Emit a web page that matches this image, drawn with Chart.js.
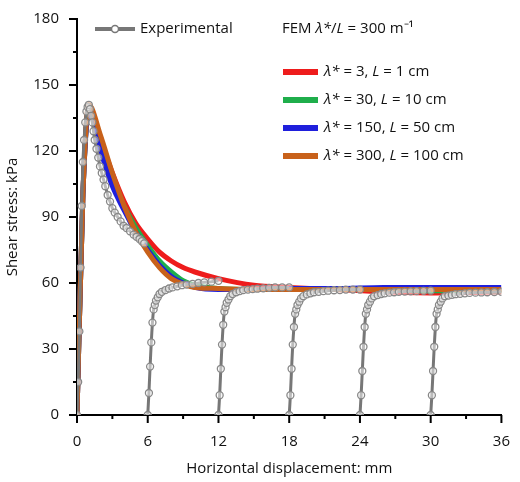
<!DOCTYPE html><html><head><meta charset="utf-8">
<script src="https://cdn.jsdelivr.net/npm/chart.js@4"></script>
<style>body{margin:0;background:#fff}#w{width:520px;height:482px}</style></head><body><div id="w"><canvas id="c"></canvas></div>
<script>
const xTicks=[0,6,12,18,24,30,36];
const yTicks=[0,30,60,90,120,150,180];
const expX=[0,0.1,0.2,0.3,0.4,0.5,0.6,0.7,0.8,0.9,1.0,1.1,1.2,1.3,1.4,1.5,1.65,1.8,1.95,2.1,2.25,2.4,2.6,2.8,3.0,3.2,3.45,3.7,3.95,4.2,4.5,4.8,5.05,5.3,5.5,5.7,null,
6,6.1,6.2,6.3,6.4,6.5,6.6,6.7,6.85,7,7.2,7.5,7.8,8.1,8.5,8.9,9.3,9.8,10.3,10.8,11.4,12,null,
12,12.1,12.2,12.3,12.4,12.5,12.6,12.7,12.85,13,13.2,13.5,13.8,14.1,14.5,14.9,15.3,15.8,16.3,16.8,17.4,18,null,
18,18.1,18.2,18.3,18.4,18.5,18.6,18.7,18.85,19,19.2,19.5,19.8,20.1,20.5,20.9,21.3,21.8,22.3,22.8,23.4,24,null,
24,24.1,24.2,24.3,24.4,24.5,24.6,24.7,24.85,25,25.2,25.5,25.8,26.1,26.5,26.9,27.3,27.8,28.3,28.8,29.4,30,null,
30,30.1,30.2,30.3,30.4,30.5,30.6,30.7,30.85,31,31.2,31.5,31.8,32.1,32.5,32.9,33.3,33.8,34.3,34.8,35.4,36];
const expY=[0,15,38,67,95,115,125,133,138,140,141,139,136,133,129,125,121,117,113,110,107,104,100,97,94,92,90,88,86,85,83.5,82,81,80,79,78,null,
0,10,22,33,42,48,50,52,53.5,55,56,56.8,57.5,58,58.5,59,59.3,59.6,60,60.3,60.6,61,null,
0,9,21,32,41,47,49,51,52.5,54,55,55.8,56.3,56.8,57,57.2,57.4,57.6,57.8,58,58,58,null,
0,9,21,32,40,46,48,50,51.5,53,54,54.8,55.3,55.8,56,56.3,56.5,56.7,56.8,57,57,57,null,
0,9,20,31,40,46,48,50,51.5,53,54,54.5,55,55.3,55.6,55.8,56,56.1,56.2,56.3,56.4,56.5,null,
0,9,20,31,40,46,48,50,51.5,53,54,54.3,54.6,54.9,55.1,55.3,55.5,55.6,55.7,55.8,55.9,56];
const femX=[0,0.5,1,2,3,4,5,6,7,8,9,10,12,15,18,22,26,30,36];
const redY=[0,100,140,125,110,97,87,80,74,70,67,65,62,59,58,57,56,55.5,56];
const greenY=[0,100,139,122,107,95,85,77,70,65,61,59,57.5,57,57,57,57,56.5,56.5];
const blueY=[0,100,138,120,104,93,83,75,68,63,60,58,57,57,57.5,57.5,58,58,58];
const orangeY=[0,100,141,127,110,95,83,74,67,62,59.5,58,57.5,57,57,57,57,57,57];
const femColors=['#ee1c1c','#1fae4b','#1f1fdc','#c8611a'];
const femLabels=[[['λ*','i'],[' = 3, ',''],['L','i'],[' = 1 cm','']],
 [['λ*','i'],[' = 30, ',''],['L','i'],[' = 10 cm','']],
 [['λ*','i'],[' = 150, ',''],['L','i'],[' = 50 cm','']],
 [['λ*','i'],[' = 300, ',''],['L','i'],[' = 100 cm','']]];
const pts=(xs,ys)=>xs.map((x,i)=>({x:x,y:ys[i]}));
const F='"Open Sans", sans-serif';
const legendPlugin={id:'lg',afterDraw(ch){const c=ch.ctx;c.save();c.textBaseline='middle';
 function rich(segs,x,y){segs.forEach(s=>{c.font=(s[1]?'italic ':'')+'15px '+F;c.fillStyle='#111';c.fillText(s[0],x,y);x+=c.measureText(s[0]).width;});}
 c.strokeStyle='#777';c.lineWidth=4;c.beginPath();c.moveTo(95,29);c.lineTo(135,29);c.stroke();
 c.lineWidth=1.5;c.fillStyle='#fff';c.beginPath();c.arc(115,29,3.5,0,7);c.fill();c.stroke();
 rich([['Experimental','']],140,29);
 rich([['FEM ',''],['λ*','i'],['/',''],['L','i'],[' = 300 m⁻¹','']],282,29);
 femLabels.forEach((l,i)=>{const y=72+28*i;c.strokeStyle=femColors[i];c.lineWidth=6;c.beginPath();c.moveTo(283,y);c.lineTo(318,y);c.stroke();rich(l,324,y);});
 const xs=ch.scales.x,ys=ch.scales.y,a=ch.chartArea;c.strokeStyle='#000';c.lineWidth=2;c.beginPath();
 for(let v=0;v<=36;v+=3){const p=xs.getPixelForValue(v);c.moveTo(p,a.bottom);c.lineTo(p,a.bottom+(v%6?4:8));}
 for(let v=0;v<=180;v+=15){const p=ys.getPixelForValue(v);c.moveTo(a.left,p);c.lineTo(a.left-(v%30?4:8),p);}
 c.stroke();c.restore();}};
new Chart(document.getElementById('c'),{type:'line',data:{datasets:[
 {data:pts(expX,expY),borderColor:'#777',borderWidth:3,pointRadius:3.5,pointBorderColor:'#888',pointBackgroundColor:'rgba(255,255,255,0.5)',pointBorderWidth:1.3,tension:0.2,spanGaps:false,order:0},
 ...[redY,greenY,blueY,orangeY].map((ys,i)=>({data:pts(femX,ys),borderColor:femColors[i],borderWidth:5,pointRadius:0,tension:0.4,cubicInterpolationMode:'monotone',order:4-i}))
]},options:{animation:false,responsive:true,maintainAspectRatio:false,layout:{padding:{top:8,right:12}},
 plugins:{legend:{display:false},tooltip:{enabled:false}},
 scales:{x:{type:'linear',min:0,max:36,afterBuildTicks:s=>{s.ticks=xTicks.map(v=>({value:v}));},afterFit:s=>{s.height=67;},
   grid:{display:false},border:{color:'#000',width:2},ticks:{color:'#111',font:{family:F,size:15},padding:10},
   title:{display:true,text:'Horizontal displacement: mm',color:'#111',font:{family:F,size:15},padding:{top:2}}},
  y:{min:0,max:180,afterBuildTicks:s=>{s.ticks=yTicks.map(v=>({value:v}));},afterFit:s=>{s.width=77;},
   grid:{display:false},border:{color:'#000',width:2},ticks:{color:'#111',font:{family:F,size:15},padding:10},
   title:{display:true,text:'Shear stress: kPa',color:'#111',font:{family:F,size:15},padding:{bottom:0}}}}},
 plugins:[legendPlugin]});
</script></body></html>
